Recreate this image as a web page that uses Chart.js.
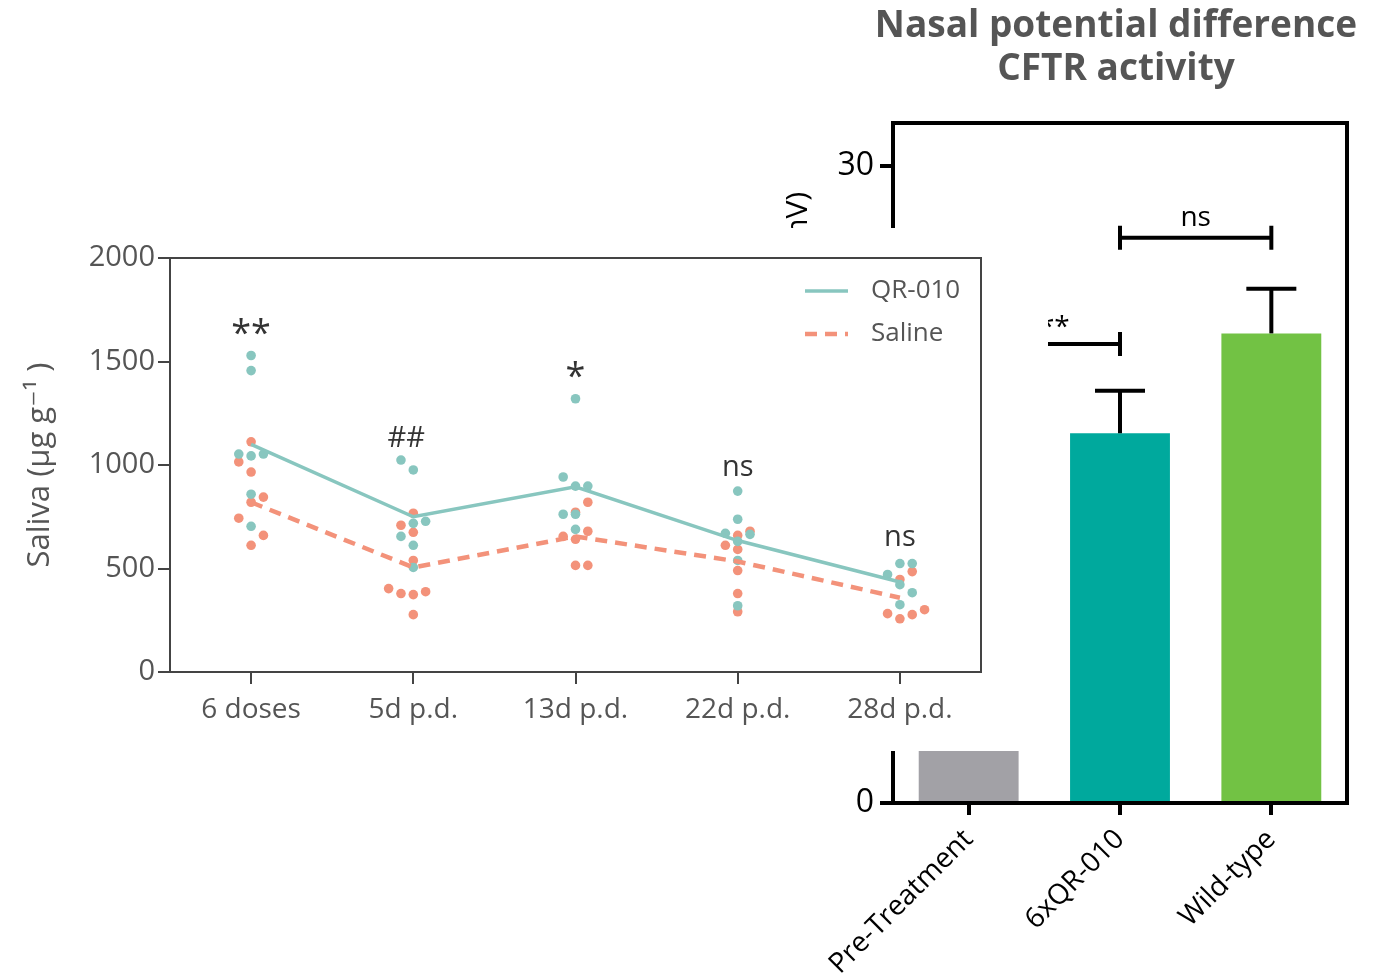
<!DOCTYPE html>
<html>
<head>
<meta charset="utf-8">
<script src="https://cdn.jsdelivr.net/npm/chart.js@4.4.1/dist/chart.umd.min.js"></script>
<style>
  html, body { margin: 0; padding: 0; background: #fff; }
  #wrap { position: relative; width: 1381px; height: 978px; overflow: hidden; }
  #npd { position: absolute; left: 0; top: 0; }
  #salivaBox { position: absolute; left: 0; top: 228px; width: 1048px; height: 523px; background: #fff; }
</style>
</head>
<body>
<div id="wrap">
  <canvas id="npd" width="1381" height="978"></canvas>
  <div id="salivaBox"><canvas id="saliva" width="1048" height="523"></canvas></div>
</div>
<script>
// --- saliva panel ---
const timepoints = ['6 doses', '5d p.d.', '13d p.d.', '22d p.d.', '28d p.d.'];
const qrMean = [1100, 750, 895, 635, 435];
const salineMean = [820, 505, 655, 534, 359];
// single animals: [value, column] - column puts overlapping dots side by side
const qrDots = [
  [[1529, 0], [1456, 0], [1053, -1], [1044, 0], [1053, 1], [859, 0], [704, 0]],
  [[1024, -1], [976, 0], [718, 0], [728, 1], [655, -1], [612, 0], [505, 0]],
  [[1320, 0], [942, -1], [898, 0], [898, 1], [762, -1], [762, 0], [689, 0]],
  [[874, 0], [738, 0], [670, -1], [665, 1], [631, 0], [539, 0], [320, 0]],
  [[524, 0], [524, 1], [471, -1], [422, 0], [383, 1], [325, 0]]
];
const salineDots = [
  [[1112, 0], [1015, -1], [966, 0], [820, 0], [845, 1], [743, -1], [660, 1], [612, 0]],
  [[767, 0], [709, -1], [675, 0], [539, 0], [403, -2], [379, -1], [374, 0], [388, 1], [277, 0]],
  [[772, 0], [820, 1], [680, 1], [655, -1], [641, 0], [515, 0], [515, 1]],
  [[660, 0], [680, 1], [612, -1], [592, 0], [490, 0], [379, 0], [291, 0]],
  [[485, 1], [447, 0], [282, -1], [257, 0], [277, 1], [301, 2]]
];
const sigText = ['**', '##', '*', 'ns', 'ns'];
const sigLevel = [1580, 1087, 1374, 947, 607];

// --- NPD panel ---
const groups = ['Pre-Treatment', '6xQR-010', 'Wild-type'];
const npdMean = [3.5, 17.4, 22.1];
const npdSem = [0, 2.0, 2.1];
const npdBrackets = [[0, 1, '**', 21.6], [1, 2, 'ns', 26.6]];

const TEAL = '#88c6bf';
const SALMON = '#f3927a';
const DOT_STEP = 0.076;
const FONT = "'Open Sans', 'DejaVu Sans', sans-serif";

Chart.defaults.font.family = FONT;

function dotPoints(list) {
  const pts = [];
  list.forEach((g, i) => g.forEach(([v, col]) => pts.push({ x: i + col * DOT_STEP, y: v })));
  return pts;
}
const meanPoints = arr => arr.map((v, i) => ({ x: i, y: v }));

function line(ctx, x0, y0, x1, y1) {
  ctx.beginPath(); ctx.moveTo(x0, y0); ctx.lineTo(x1, y1); ctx.stroke();
}

const salivaExtras = {
  id: 'salivaExtras',
  afterDraw(chart) {
    const { ctx, chartArea: a, scales: { x, y } } = chart;
    ctx.save();
    ctx.strokeStyle = '#444';
    ctx.lineWidth = 2;
    ctx.beginPath();
    ctx.moveTo(a.left, a.top); ctx.lineTo(a.right, a.top); ctx.lineTo(a.right, a.bottom);
    ctx.stroke();

    ctx.fillStyle = '#333';
    ctx.textAlign = 'center';
    ctx.textBaseline = 'alphabetic';
    sigText.forEach((t, i) => {
      ctx.font = (t.includes('*') ? '36px ' : '29px ') + FONT;
      const dx = t === '##' ? -7 : 0;
      ctx.fillText(t, x.getPixelForValue(i) + dx, y.getPixelForValue(sigLevel[i]));
    });

    // legend, top right inside the frame
    const items = [['QR-010', TEAL, []], ['Saline', SALMON, [12, 8]]];
    ctx.font = '26px ' + FONT;
    ctx.textAlign = 'left';
    ctx.textBaseline = 'middle';
    items.forEach(([label, color, dash], k) => {
      const ly = a.top + 33 + k * 43;
      ctx.strokeStyle = color;
      ctx.lineWidth = k ? 4.5 : 3.5;
      ctx.setLineDash(dash);
      line(ctx, a.right - 176, ly, a.right - 133, ly);
      ctx.setLineDash([]);
      ctx.fillStyle = '#555';
      ctx.fillText(label, a.right - 110, ly);
    });
    ctx.restore();
  }
};

new Chart(document.getElementById('saliva'), {
  type: 'scatter',
  data: {
    datasets: [
      { type: 'line', label: 'QR-010', data: meanPoints(qrMean), borderColor: TEAL, borderWidth: 3.5, pointRadius: 0, fill: false, order: 1 },
      { type: 'line', label: 'Saline', data: meanPoints(salineMean), borderColor: SALMON, borderWidth: 4.5, borderDash: [12, 8], pointRadius: 0, fill: false, order: 2 },
      { label: 'QR-010 dots', data: dotPoints(qrDots), backgroundColor: TEAL, pointRadius: 4.8, pointBorderWidth: 0, order: 3 },
      { label: 'Saline dots', data: dotPoints(salineDots), backgroundColor: SALMON, pointRadius: 4.8, pointBorderWidth: 0, order: 4 }
    ]
  },
  options: {
    responsive: false,
    animation: false,
    events: [],
    layout: { padding: { top: 30, right: 67, left: 0, bottom: 0 } },
    plugins: { legend: { display: false }, tooltip: { enabled: false } },
    scales: {
      x: {
        type: 'linear', min: -0.5, max: 4.5,
        afterBuildTicks: s => { s.ticks = timepoints.map((_, i) => ({ value: i })); },
        afterFit: s => { s.height = 79; },
        ticks: { callback: v => timepoints[v] ?? '', autoSkip: false, maxRotation: 0, font: { size: 28 }, color: '#555', padding: 9 },
        grid: { drawOnChartArea: false, drawTicks: true, tickLength: 12, color: '#444', lineWidth: 2 },
        border: { color: '#444', width: 2 }
      },
      y: {
        min: 0, max: 2000,
        afterFit: s => { s.width = 170; },
        ticks: { stepSize: 500, callback: v => String(v), font: { size: 29 }, color: '#555', padding: 3 },
        grid: { drawOnChartArea: false, drawTicks: true, tickLength: 12, color: '#444', lineWidth: 2 },
        border: { color: '#444', width: 2 },
        title: { display: true, text: 'Saliva (μg g⁻¹ )', font: { size: 31 }, color: '#555', padding: { top: 22, bottom: 0 } }
      }
    }
  },
  plugins: [salivaExtras]
});

// --- NPD bar chart underneath ---
const npdExtras = {
  id: 'npdExtras',
  afterDatasetsDraw(chart) {
    const { ctx, chartArea: a, scales: { x, y } } = chart;
    ctx.save();
    ctx.strokeStyle = '#000';
    ctx.lineWidth = 4;
    line(ctx, a.left, a.top, a.right, a.top);
    line(ctx, a.right, a.top - 2, a.right, a.bottom);

    npdMean.forEach((m, i) => {
      if (!npdSem[i]) return;
      const cx = x.getPixelForValue(i);
      const y0 = y.getPixelForValue(m), y1 = y.getPixelForValue(m + npdSem[i]);
      line(ctx, cx, y0, cx, y1);
      line(ctx, cx - 25, y1, cx + 25, y1);
    });

    ctx.fillStyle = '#000';
    ctx.textAlign = 'center';
    ctx.textBaseline = 'alphabetic';
    npdBrackets.forEach(([i, j, label, lvl]) => {
      const x0 = x.getPixelForValue(i), x1 = x.getPixelForValue(j), yy = y.getPixelForValue(lvl);
      line(ctx, x0, yy, x1, yy);
      line(ctx, x0, yy - 12, x0, yy + 12);
      line(ctx, x1, yy - 12, x1, yy + 12);
      const star = label !== 'ns';
      ctx.font = '28px ' + FONT;
      ctx.fillText(label, (x0 + x1) / 2 + (star ? 10 : 0), yy - (star ? 8 : 12));
    });

    ctx.fillStyle = '#555';
    ctx.font = 'bold 37px ' + FONT;
    ctx.textBaseline = 'middle';
    const cx = (a.left + a.right) / 2 - 4;
    ctx.fillText('Nasal potential difference', cx, 26);
    ctx.fillText('CFTR activity', cx, 69);
    ctx.restore();
  }
};

new Chart(document.getElementById('npd'), {
  type: 'bar',
  data: {
    labels: groups,
    datasets: [{
      data: npdMean,
      backgroundColor: ['#a2a1a6', '#00a99d', '#72c244'],
      borderWidth: 0,
      barPercentage: 0.66,
      categoryPercentage: 1.0
    }]
  },
  options: {
    responsive: false,
    animation: false,
    events: [],
    layout: { padding: { top: 123, right: 34, left: 780, bottom: 0 } },
    plugins: { legend: { display: false }, tooltip: { enabled: false } },
    scales: {
      x: {
        afterFit: s => { s.height = 175; },
        ticks: { autoSkip: false, minRotation: 45, maxRotation: 45, font: { size: 28 }, color: '#000', padding: 8 },
        grid: { offset: false, drawOnChartArea: false, drawTicks: true, tickLength: 12, color: '#000', lineWidth: 4 },
        border: { color: '#000', width: 4 }
      },
      y: {
        min: 0, max: 32,
        afterFit: s => { s.width = 113; },
        ticks: { stepSize: 10, includeBounds: false, font: { size: 32 }, color: '#000', padding: 6 },
        grid: { drawOnChartArea: false, drawTicks: true, tickLength: 13, color: '#000', lineWidth: 4 },
        border: { color: '#000', width: 4 },
        title: { display: true, text: 'ΔPD zero-chloride + isoproterenol (mV)', font: { size: 30 }, color: '#000', padding: { top: 0, bottom: 0 } }
      }
    }
  },
  plugins: [npdExtras]
});
</script>
</body>
</html>
